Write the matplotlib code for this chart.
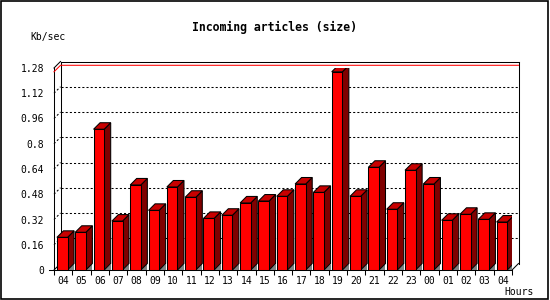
import numpy as np
import matplotlib
matplotlib.use("Agg")
import matplotlib.pyplot as plt
from matplotlib.patches import Polygon, Rectangle

hours = ["04", "05", "06", "07", "08", "09", "10", "11", "12", "13", "14", "15",
         "16", "17", "18", "19", "20", "21", "22", "23", "00", "01", "02", "03", "04"]
kb_sec = [0.207, 0.239, 0.892, 0.310, 0.539, 0.378, 0.526, 0.461, 0.327, 0.347,
          0.425, 0.437, 0.467, 0.545, 0.492, 1.256, 0.467, 0.651, 0.385, 0.632,
          0.545, 0.315, 0.353, 0.321, 0.304]
yticks = [0, 0.16, 0.32, 0.48, 0.64, 0.8, 0.96, 1.12, 1.28]
ytick_labels = ["0", "0.16", "0.32", "0.48", "0.64", "0.8", "0.96", "1.12", "1.28"]

W, H = 550, 300
mono = "DejaVu Sans Mono"
lw = 0.75

fig = plt.figure(figsize=(W / 100, H / 100), dpi=100)
fig.patch.set_facecolor("white")

# front plane of the plot in pixels
left, right, bottom, top = 54, 512, 30, 232
ax = fig.add_axes([left / W, bottom / H, (right - left) / W, (top - bottom) / H])
n = len(hours)
xmin, xmax = -0.5, n - 0.5
ymax = 1.28
ax.set_xlim(xmin, xmax)
ax.set_ylim(0, ymax)
for s in ax.spines.values():
    s.set_visible(False)

# depth of the 3d effect, converted from pixels to data units
depth = 6.5
ddx = depth * (xmax - xmin) / (right - left)
ddy = depth * ymax / (top - bottom)

# back wall gridlines and side wall diagonals
for t in yticks[1:-1]:
    ax.plot([xmin + ddx, xmax + ddx], [t + ddy, t + ddy], color="black",
            lw=lw, ls=(0, (2, 2)), clip_on=False, zorder=1)
    ax.plot([xmin, xmin + ddx], [t, t + ddy], color="black",
            lw=lw, ls=(0, (2, 2)), clip_on=False, zorder=1)

# frame lines
k = dict(color="black", lw=lw, clip_on=False, zorder=2)
ax.plot([xmin, xmin], [0, ymax], **k)
ax.plot([xmin, xmin + ddx], [ymax, ymax + ddy], **k)
ax.plot([xmin + ddx, xmin + ddx], [ddy, ymax + ddy], **k)
ax.plot([xmin + ddx, xmax + ddx], [ymax + ddy, ymax + ddy], **k)
ax.plot([xmax + ddx, xmax + ddx], [ddy, ymax + ddy], **k)
ax.plot([xmin - 0.25, xmax], [0, 0], **k)
ax.plot([xmin, xmin + ddx], [0, ddy], **k)
ax.plot([xmax, xmax + ddx], [0, ddy], **k)

# max line
vmax = max(kb_sec)
ax.plot([xmin, xmin + ddx, xmax + ddx], [vmax, vmax + ddy, vmax + ddy],
        color="#ff0000", lw=lw, clip_on=False, zorder=2)

# bars
bw = 0.58
off = -0.05
x = np.arange(n)
for i, v in enumerate(kb_sec):
    x0 = i + off - bw / 2
    x1 = x0 + bw
    ax.add_patch(Polygon([(x1, 0), (x1 + ddx, 0), (x1 + ddx, ddy)], closed=True,
                         facecolor="#808080", edgecolor="none", zorder=3))
    ax.add_patch(Polygon([(x1, 0), (x1 + ddx, ddy), (x1 + ddx, v + ddy), (x1, v)],
                         closed=True, facecolor="#800000", edgecolor="black",
                         lw=lw, zorder=3))
    ax.add_patch(Polygon([(x0, v), (x0 + ddx, v + ddy), (x1 + ddx, v + ddy), (x1, v)],
                         closed=True, facecolor="#c80000", edgecolor="black",
                         lw=lw, zorder=3))
ax.bar(x + off, kb_sec, width=bw, color="#ff0000", edgecolor="black",
       linewidth=lw, zorder=4)

# ticks
ax.set_yticks(yticks)
ax.set_yticklabels(ytick_labels, fontfamily=mono, fontsize=7)
ax.tick_params(axis="y", length=0, pad=7)
ax.set_xticks(x)
ax.set_xticklabels(hours, fontfamily=mono, fontsize=7)
ax.tick_params(axis="x", which="major", length=0, pad=4)
ax.set_xticks(np.arange(n + 1) - 0.5, minor=True)
ax.tick_params(axis="x", which="minor", length=3.5, width=lw, color="black")

fig.text(274 / W, 1 - 27 / H, "Incoming articles (size)", ha="center", va="center",
         fontfamily=mono, fontsize=8.3, fontweight="bold")
fig.text(30 / W, 1 - 37 / H, "Kb/sec", ha="left", va="center",
         fontfamily=mono, fontsize=7)
fig.text(534 / W, 1 - 292 / H, "Hours", ha="right", va="center",
         fontfamily=mono, fontsize=7)

fig.patches.append(Rectangle((0.75 / W, 1.25 / H), 547.5 / W, 298 / H, fill=False,
                             edgecolor="black", lw=1.2, transform=fig.transFigure,
                             figure=fig))

fig.savefig("out.png", dpi=100)
